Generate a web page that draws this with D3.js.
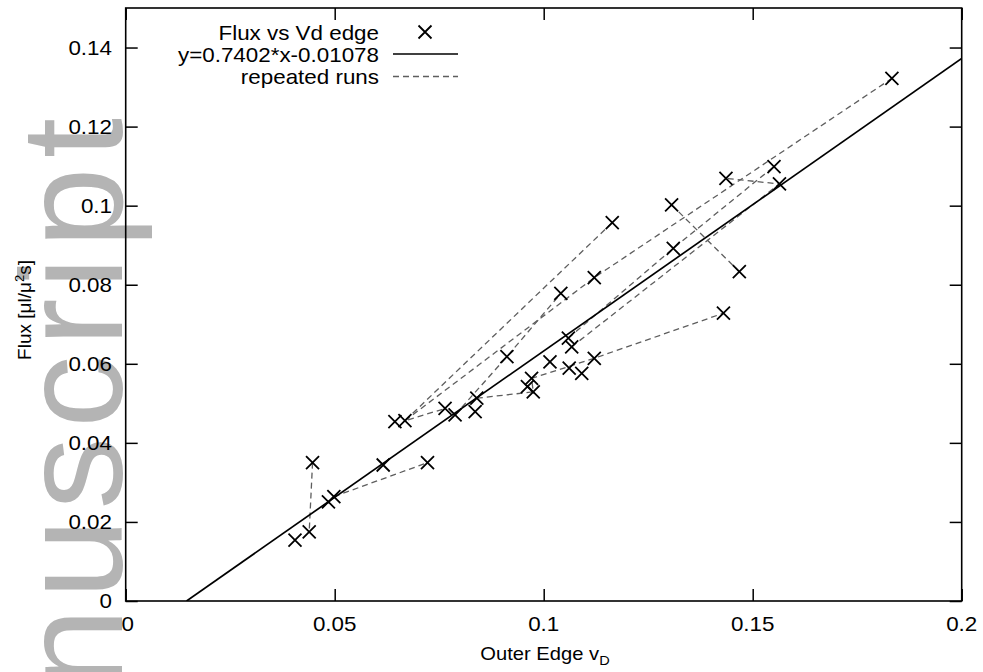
<!DOCTYPE html>
<html>
<head>
<meta charset="utf-8">
<script src="https://cdn.jsdelivr.net/npm/d3@7"></script>
<style>
  html, body { margin: 0; padding: 0; background: #fff; }
  svg { display: block; }
  text { font-family: "Liberation Sans", Arial, Helvetica, sans-serif; fill: #000; }
</style>
</head>
<body>
<svg id="chart" width="983" height="672"></svg>
<script>
// ---- data ----
const vd   = [0.0405, 0.0439, 0.0447, 0.0485, 0.0498, 0.0616, 0.0722, 0.0644, 0.0668, 0.0764,
              0.0788, 0.0840, 0.0836, 0.0912, 0.0971, 0.0961, 0.0975, 0.1015, 0.1059, 0.1067,
              0.1061, 0.1091, 0.1121, 0.1041, 0.1121, 0.1164, 0.1306, 0.1310, 0.1430, 0.1436,
              0.1468, 0.1551, 0.1564, 0.1833];
const flux = [0.0154, 0.0175, 0.0350, 0.0251, 0.0264, 0.0344, 0.0350, 0.0454, 0.0456, 0.0487,
              0.0471, 0.0513, 0.0479, 0.0618, 0.0563, 0.0542, 0.0529, 0.0605, 0.0665, 0.0643,
              0.0589, 0.0576, 0.0614, 0.0778, 0.0818, 0.0957, 0.1002, 0.0892, 0.0728, 0.1069,
              0.0833, 0.1099, 0.1055, 0.1322];
// repeated runs: indices into vd/flux, joined by dashed lines
const runs = [
  [2, 1],
  [4, 6],
  [25, 8, 9],
  [8, 24, 33],
  [10, 13, 23],
  [11, 16, 14, 22, 28],
  [18, 27, 31],
  [19, 32, 29],
  [26, 30]
];
const fitSlope = 0.7402, fitIntercept = -0.01078;
const xTicks = [0, 0.05, 0.1, 0.15, 0.2];
const xTickLabels = ["0", "0.05", "0.1", "0.15", "0.2"];
const yTicks = [0, 0.02, 0.04, 0.06, 0.08, 0.1, 0.12, 0.14];
const yTickLabels = ["0", "0.02", "0.04", "0.06", "0.08", "0.1", "0.12", "0.14"];
const legendLabels = ["Flux vs Vd edge", "y=0.7402*x-0.01078", "repeated runs"];

// ---- layout ----
const L = 125.7, R = 961.7, T = 8, B = 601;
const SX = 1.12;          // horizontal stretch of the lettering
const FS = 20;
const svg = d3.select("#chart");
const x = d3.scaleLinear().domain([0, 0.2]).range([L, R]);
const y = d3.scaleLinear().domain([0, 0.15]).range([B, T]);

// watermark
svg.append("text")
  .attr("transform", "translate(122,109) rotate(-90)")
  .attr("text-anchor", "end")
  .style("font-size", "145px")
  .style("letter-spacing", "9px")
  .style("fill", "#b4b4b4")
  .text("Manuscript");

function stext(g, px, py, str, anchor, size) {
  return g.append("text")
    .attr("transform", `translate(${px},${py}) scale(${SX},1)`)
    .attr("text-anchor", anchor)
    .style("font-size", size + "px")
    .text(str);
}

svg.append("defs").append("clipPath").attr("id", "plotclip")
  .append("rect").attr("x", L).attr("y", T).attr("width", R - L).attr("height", B - T);

const plot = svg.append("g").attr("clip-path", "url(#plotclip)");

// dashed repeated runs
const line = d3.line().x(i => x(vd[i])).y(i => y(flux[i]));
plot.selectAll("path.run").data(runs).enter().append("path")
  .attr("class", "run")
  .attr("d", line)
  .attr("fill", "none")
  .attr("stroke", "#5e5e5e")
  .attr("stroke-width", 1.3)
  .attr("stroke-dasharray", "6,4");

// fit line
const x0 = -fitIntercept / fitSlope;
plot.append("path")
  .attr("d", d3.line().x(d => x(d)).y(d => y(fitSlope * d + fitIntercept))([x0, 0.2]))
  .attr("fill", "none").attr("stroke", "#000").attr("stroke-width", 1.7);

// point markers (x)
const S = 6.5;
function cross(px, py) {
  return `M${px - S},${py - S}L${px + S},${py + S}M${px - S},${py + S}L${px + S},${py - S}`;
}
plot.selectAll("path.pt").data(vd.map((v, i) => i)).enter().append("path")
  .attr("class", "pt")
  .attr("d", i => cross(x(vd[i]), y(flux[i])))
  .attr("stroke", "#000").attr("stroke-width", 1.8).attr("fill", "none");

// axes (inward ticks, mirrored)
const TK = 12;
function styleAxis(g) {
  g.select(".domain").remove();
  g.selectAll(".tick line").attr("stroke", "#000").attr("stroke-width", 1.5);
  g.selectAll(".tick text").remove();
}
svg.append("g").attr("transform", `translate(0,${B})`)
  .call(d3.axisBottom(x).tickValues(xTicks).tickSize(-TK).tickFormat("")).call(styleAxis);
svg.append("g").attr("transform", `translate(0,${T})`)
  .call(d3.axisTop(x).tickValues(xTicks).tickSize(-TK).tickFormat("")).call(styleAxis);
svg.append("g").attr("transform", `translate(${L},0)`)
  .call(d3.axisLeft(y).tickValues(yTicks).tickSize(-TK).tickFormat("")).call(styleAxis);
svg.append("g").attr("transform", `translate(${R},0)`)
  .call(d3.axisRight(y).tickValues(yTicks).tickSize(-TK).tickFormat("")).call(styleAxis);

svg.append("rect").attr("x", L).attr("y", T).attr("width", R - L).attr("height", B - T)
  .attr("fill", "none").attr("stroke", "#000").attr("stroke-width", 1.6);

// tick labels
const labels = svg.append("g");
xTicks.forEach((v, i) => stext(labels, x(v) + (i === 0 ? 2 : 0), 631, xTickLabels[i], "middle", FS));
yTicks.forEach((v, i) => stext(labels, 112, y(v) + 7, yTickLabels[i], "end", FS));

// axis titles
const xt = labels.append("text")
  .attr("transform", `translate(545,660) scale(${SX},1)`)
  .attr("text-anchor", "middle").style("font-size", "18px");
xt.append("tspan").text("Outer Edge v");
xt.append("tspan").attr("dy", 5).style("font-size", "13px").text("D");

const yt = labels.append("text")
  .attr("transform", "translate(31,310) rotate(-90)")
  .attr("text-anchor", "middle").style("font-size", "19px");
yt.append("tspan").text("Flux [\u03bcl/\u03bc");
yt.append("tspan").attr("dy", -7).style("font-size", "13px").text("2");
yt.append("tspan").attr("dy", 7).text("s]");

// legend
const lg = svg.append("g");
stext(lg, 379, 39.5, legendLabels[0], "end", FS);
stext(lg, 379, 61.5, legendLabels[1], "end", FS);
stext(lg, 379, 83.5, legendLabels[2], "end", FS);
lg.append("path").attr("d", cross(425, 32)).attr("stroke", "#000").attr("stroke-width", 1.8);
lg.append("line").attr("x1", 393).attr("x2", 458).attr("y1", 54).attr("y2", 54)
  .attr("stroke", "#000").attr("stroke-width", 1.7);
lg.append("line").attr("x1", 393).attr("x2", 458).attr("y1", 76.5).attr("y2", 76.5)
  .attr("stroke", "#5e5e5e").attr("stroke-width", 1.3).attr("stroke-dasharray", "6,4");
</script>
</body>
</html>
